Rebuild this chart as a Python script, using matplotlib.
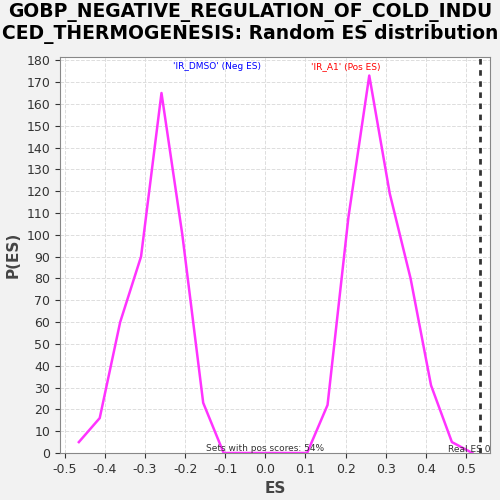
import matplotlib
matplotlib.use("Agg")
import matplotlib.pyplot as plt

es = [-0.465, -0.413, -0.362, -0.31, -0.259, -0.207, -0.155, -0.104, -0.052, 0.0, 0.052,
      0.104, 0.155, 0.207, 0.259, 0.31, 0.362, 0.413, 0.465, 0.516]
pes = [5, 16, 60, 90, 165, 100, 23, 0, 0, 0, 0,
       0, 22, 108, 173, 119, 80, 31, 5, 0]
real_es = 0.535
xticks = [-0.5, -0.4, -0.3, -0.2, -0.1, 0.0, 0.1, 0.2, 0.3, 0.4, 0.5]
yticks = list(range(0, 181, 10))

fig = plt.figure(figsize=(5, 5), dpi=100, facecolor="#f2f2f2")
ax = fig.add_axes([0.12, 0.094, 0.86, 0.792])
ax.set_facecolor("white")
ax.plot(es, pes, color="#ff33ff", lw=1.8)
ax.axvline(real_es, color="#333333", ls=(0, (2, 2)), lw=2)
ax.set_xlim(-0.512, 0.56)
ax.set_ylim(0, 181.5)
ax.set_xticks(xticks)
ax.set_xticklabels([f"{t:.1f}" for t in xticks])
ax.set_yticks(yticks)
ax.grid(True, color="#dddddd", ls="--", lw=0.7)
ax.tick_params(labelsize=9, colors="#333333")
for s in ax.spines.values():
    s.set_color("#888888")
ax.set_xlabel("ES", fontsize=11, fontweight="bold", color="#444444")
ax.set_ylabel("P(ES)", fontsize=11, fontweight="bold", color="#444444")
ax.text(-0.12, 176, "'IR_DMSO' (Neg ES)", color="blue", fontsize=6.5, ha="center")
ax.text(0.2, 176, "'IR_A1' (Pos ES)", color="red", fontsize=6.5, ha="center")
ax.text(0.0, 0.8, "Sets with pos scores: 54%", color="#333333", fontsize=6.5, ha="center")
ax.text(0.56, 0.3, "Real ES 0", color="#333333", fontsize=6.5, ha="right")
fig.suptitle("GOBP_NEGATIVE_REGULATION_OF_COLD_INDU\nCED_THERMOGENESIS: Random ES distribution",
             fontsize=13.5, fontweight="bold", y=0.995, linespacing=1.15)
fig.savefig("out.png", dpi=100, facecolor=fig.get_facecolor())
